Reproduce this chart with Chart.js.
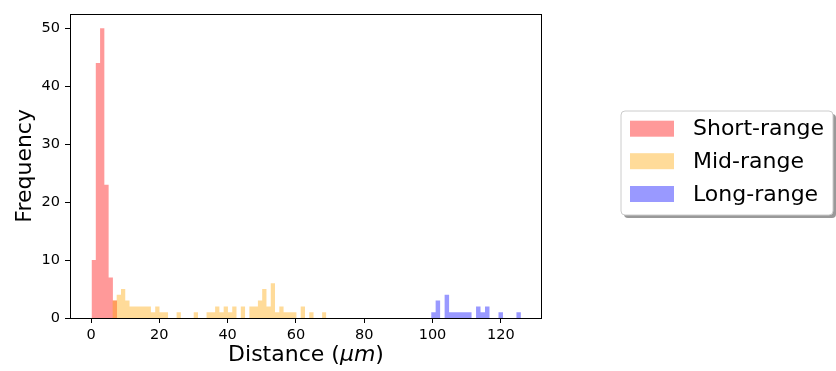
<!DOCTYPE html>
<html>
<head>
<meta charset="utf-8">
<script src="https://cdn.jsdelivr.net/npm/chart.js@4.4.1/dist/chart.umd.min.js"></script>
<style>
  html, body { margin: 0; padding: 0; background: #fff; }
</style>
</head>
<body>
<canvas id="chartHist" width="836" height="371"></canvas>
<script>
// Nomes das séries e cores
const seriesNames = ['Short-range', 'Mid-range', 'Long-range'];
const seriesColors = ['rgba(255, 0, 0, 0.4)', 'rgba(255, 165, 0, 0.4)', 'rgba(0, 0, 255, 0.4)'];

// Início e largura dos bins (unidades do eixo x)
const shortBinStart = 0.15, shortBinWidth = 1.253;
const midBinStart = 6.27, midBinWidth = 1.253;
const longBinStart = 99.6, longBinWidth = 1.3145;

// Contagens por bin
const shortCounts = [10, 44, 50, 23, 7, 3];
const midCounts = [3, 4, 5, 3, 2, 2, 2, 2, 2, 1,
                   2, 1, 1, 0, 0, 1, 0, 0, 0, 1,
                   0, 0, 1, 1, 2, 1, 2, 1, 2, 0,
                   2, 0, 2, 2, 3, 5, 2, 6, 1, 2,
                   1, 1, 1, 0, 2, 0, 1, 0, 0, 1];
const longCounts = [1, 3, 0, 4, 1, 1, 1, 1, 1, 0,
                    2, 1, 2, 0, 0, 1, 0, 0, 0, 1];

// Eixos
const xTicks = [0, 20, 40, 60, 80, 100, 120];
const yTicks = [0, 10, 20, 30, 40, 50];
const xMin = -6.15, xMax = 132.06;
const yMin = 0, yMax = 52.5;

// Histograma -> pontos em degrau
function histPoints(start, width, counts) {
    const pts = counts.map((c, i) => ({ x: start + i * width, y: c }));
    pts.push({ x: start + counts.length * width, y: 0 });
    return pts;
}

const allCounts = [shortCounts, midCounts, longCounts];
const allStarts = [shortBinStart, midBinStart, longBinStart];
const allWidths = [shortBinWidth, midBinWidth, longBinWidth];

const datasets = seriesNames.map((name, i) => ({
    label: name,
    data: histPoints(allStarts[i], allWidths[i], allCounts[i]),
    stepped: true,
    fill: 'origin',
    backgroundColor: seriesColors[i],
    borderColor: 'transparent',
    borderWidth: 0,
    pointRadius: 0,
    order: 3 - i
}));

const FONT = '"DejaVu Sans", sans-serif';

// Moldura, títulos dos eixos e legenda desenhados à mão
const decorPlugin = {
    id: 'decor',
    afterDraw(chart) {
        const ctx = chart.ctx;
        const a = chart.chartArea;
        ctx.save();

        // moldura dos eixos
        ctx.strokeStyle = '#000';
        ctx.lineWidth = 1;
        ctx.strokeRect(Math.round(a.left) + 0.5, Math.round(a.top) + 0.5,
            Math.round(a.right - a.left) - 1, Math.round(a.bottom - a.top));

        // título do eixo x: "Distance (μm)" com μm em itálico
        ctx.fillStyle = '#000';
        ctx.textBaseline = 'middle';
        const parts = [['Distance (', 'normal'], ['μm', 'italic'], [')', 'normal']];
        let total = 0;
        parts.forEach(p => { ctx.font = p[1] + ' 22px ' + FONT; total += ctx.measureText(p[0]).width; });
        let x = (a.left + a.right) / 2 - total / 2;
        const y = 355;
        ctx.textAlign = 'left';
        parts.forEach(p => {
            ctx.font = p[1] + ' 22px ' + FONT;
            ctx.fillText(p[0], x, y);
            x += ctx.measureText(p[0]).width;
        });

        // título do eixo y
        ctx.save();
        ctx.translate(25, (a.top + a.bottom) / 2);
        ctx.rotate(-Math.PI / 2);
        ctx.textAlign = 'center';
        ctx.font = '22px ' + FONT;
        ctx.fillText('Frequency', 0, 0);
        ctx.restore();

        // legenda
        const bx = 621, by = 111, bw = 212, bh = 104, r = 4;
        function roundRect(x0, y0, w, h) {
            ctx.beginPath();
            ctx.moveTo(x0 + r, y0);
            ctx.arcTo(x0 + w, y0, x0 + w, y0 + h, r);
            ctx.arcTo(x0 + w, y0 + h, x0, y0 + h, r);
            ctx.arcTo(x0, y0 + h, x0, y0, r);
            ctx.arcTo(x0, y0, x0 + w, y0, r);
            ctx.closePath();
        }
        roundRect(bx + 3, by + 3, bw, bh);
        ctx.fillStyle = '#999';
        ctx.fill();
        roundRect(bx, by, bw, bh);
        ctx.fillStyle = '#fff';
        ctx.fill();
        ctx.strokeStyle = '#ccc';
        ctx.lineWidth = 1;
        ctx.stroke();

        const rowY = [128.7, 161.2, 194];
        ctx.font = '22px ' + FONT;
        ctx.textAlign = 'left';
        ctx.textBaseline = 'middle';
        chart.data.datasets.forEach((ds, i) => {
            ctx.fillStyle = ds.backgroundColor;
            ctx.fillRect(630, rowY[i] - 8, 44, 16);
            ctx.fillStyle = '#000';
            ctx.fillText(ds.label, 693, rowY[i] + 1);
        });
        ctx.restore();
    }
};

const ctx = document.getElementById('chartHist').getContext('2d');
new Chart(ctx, {
    type: 'line',
    data: { datasets: datasets },
    options: {
        responsive: false,
        animation: false,
        devicePixelRatio: 1,
        layout: { padding: { left: 0, right: 294, top: 12, bottom: 0 } },
        plugins: {
            legend: { display: false },
            tooltip: { enabled: false }
        },
        scales: {
            x: {
                type: 'linear',
                min: xMin,
                max: xMax,
                afterBuildTicks: s => { s.ticks = xTicks.map(v => ({ value: v })); },
                afterFit: s => { s.height = 53; },
                grid: { drawOnChartArea: false, drawTicks: true, tickLength: 5, color: '#000' },
                border: { display: false },
                ticks: { color: '#000', font: { family: FONT, size: 14.5 }, padding: 4, maxRotation: 0, autoSkip: false }
            },
            y: {
                type: 'linear',
                min: yMin,
                max: yMax,
                afterBuildTicks: s => { s.ticks = yTicks.map(v => ({ value: v })); },
                afterFit: s => { s.width = 70; },
                grid: { drawOnChartArea: false, drawTicks: true, tickLength: 5, color: '#000' },
                border: { display: false },
                ticks: { color: '#000', font: { family: FONT, size: 14.5 }, padding: 5 }
            }
        }
    },
    plugins: [decorPlugin]
});
</script>
</body>
</html>
